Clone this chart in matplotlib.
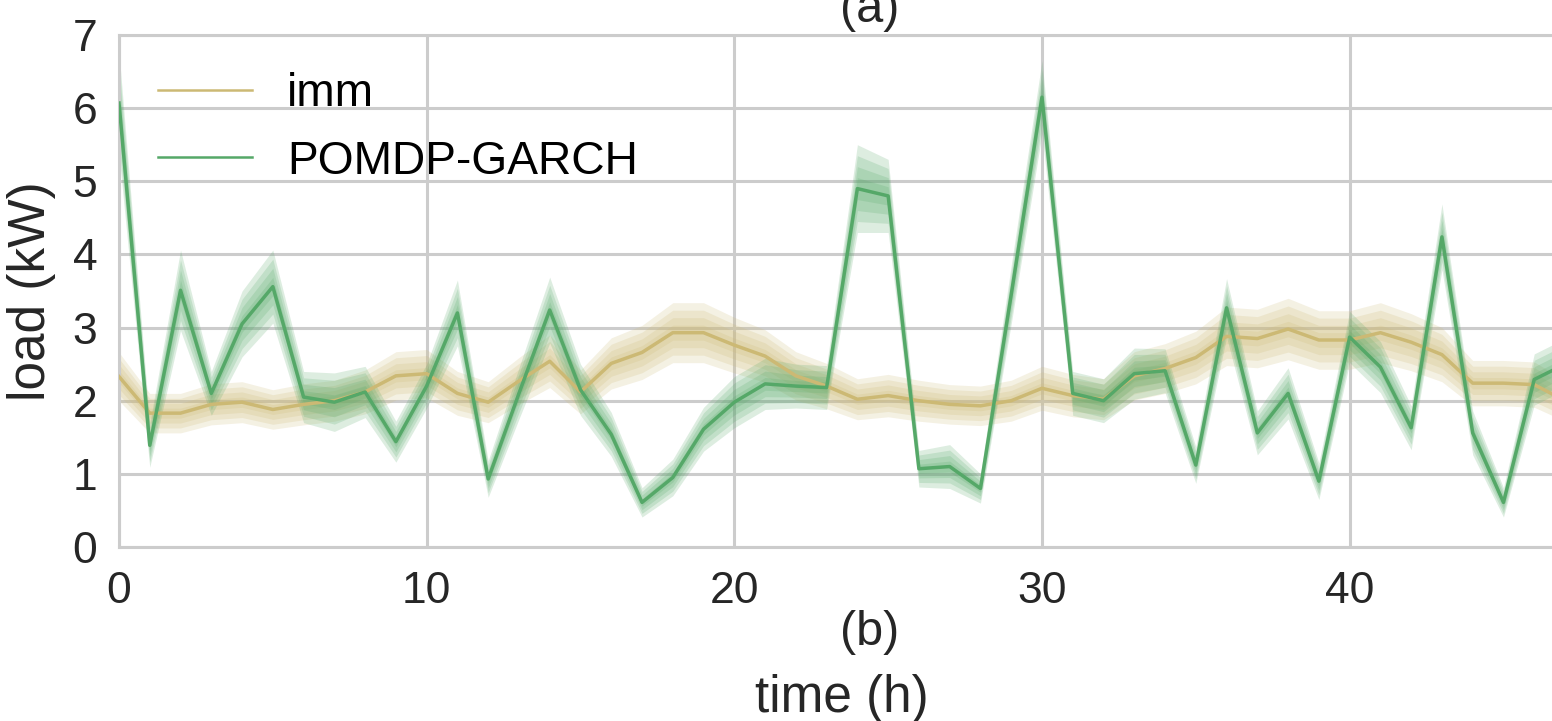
import matplotlib
matplotlib.use("Agg")
import matplotlib.pyplot as plt
import numpy as np

# ---- data -------------------------------------------------------------
hours = list(range(48))

imm_load = [2.33, 1.83, 1.83, 1.95, 1.98, 1.88, 1.95, 2.00, 2.12, 2.34,
            2.37, 2.10, 1.98, 2.27, 2.54, 2.12, 2.51, 2.66, 2.93, 2.93,
            2.76, 2.61, 2.34, 2.20, 2.02, 2.07, 2.00, 1.95, 1.93, 2.00,
            2.17, 2.07, 2.02, 2.34, 2.44, 2.59, 2.88, 2.85, 2.98, 2.83,
            2.83, 2.93, 2.80, 2.63, 2.24, 2.24, 2.22, 2.00]
imm_halfwidth = [0.33, 0.27, 0.27, 0.28, 0.28, 0.27, 0.28, 0.28, 0.30, 0.33,
                 0.33, 0.30, 0.28, 0.32, 0.36, 0.30, 0.35, 0.37, 0.41, 0.41,
                 0.38, 0.36, 0.33, 0.31, 0.28, 0.29, 0.28, 0.27, 0.27, 0.28,
                 0.30, 0.29, 0.28, 0.33, 0.34, 0.36, 0.40, 0.40, 0.42, 0.40,
                 0.40, 0.41, 0.39, 0.37, 0.31, 0.31, 0.31, 0.28]

garch_load = [6.07, 1.39, 3.51, 2.10, 3.05, 3.56, 2.05, 1.98, 2.12, 1.44,
              2.20, 3.20, 0.93, 2.10, 3.24, 2.15, 1.54, 0.61, 0.95, 1.61,
              1.98, 2.23, 2.20, 2.18, 4.90, 4.80, 1.07, 1.10, 0.80, 3.45,
              6.15, 2.10, 2.00, 2.37, 2.41, 1.12, 3.27, 1.56, 2.10, 0.90,
              2.87, 2.46, 1.63, 4.24, 1.56, 0.61, 2.29, 2.50]
garch_halfwidth = [0.70, 0.30, 0.55, 0.30, 0.45, 0.50, 0.35, 0.40, 0.35, 0.28,
                   0.30, 0.45, 0.25, 0.35, 0.45, 0.35, 0.30, 0.20, 0.25, 0.30,
                   0.35, 0.35, 0.30, 0.30, 0.60, 0.50, 0.25, 0.30, 0.20, 0.40,
                   0.50, 0.30, 0.30, 0.35, 0.30, 0.25, 0.40, 0.30, 0.35, 0.25,
                   0.35, 0.35, 0.30, 0.45, 0.30, 0.20, 0.35, 0.35]

series_names = ["imm", "POMDP-GARCH"]
series_colors = ["#CCB974", "#55A868"]

# nested confidence bands, as fractions of the outer half-width
band_levels = [1.0, 0.75, 0.5, 0.25]

# ---- figure -----------------------------------------------------------
W, H = 1552, 721
plt.rcParams["font.family"] = ["Liberation Sans", "DejaVu Sans"]
fig = plt.figure(figsize=(W / 100, H / 100), dpi=100)

left_px, right_px, top_px, bottom_px = 119, 1565, 35, 547
ax = fig.add_axes([left_px / W, 1 - bottom_px / H,
                   (right_px - left_px) / W, (bottom_px - top_px) / H])
ax.set_facecolor("white")

x = np.array(hours, dtype=float)
for name, color, mean, hw in [
        (series_names[0], series_colors[0], imm_load, imm_halfwidth),
        (series_names[1], series_colors[1], garch_load, garch_halfwidth)]:
    mean = np.array(mean)
    hw = np.array(hw)
    for lv in band_levels:
        ax.fill_between(x, mean - lv * hw, mean + lv * hw, color=color,
                        alpha=0.2, linewidth=0, zorder=2)
    ax.plot(x, mean, color=color, linewidth=2.5, label=name, zorder=3)

ax.set_xlim(0, 47)
ax.set_ylim(0, 7)
ax.set_xticks([0, 10, 20, 30, 40])
ax.set_yticks(range(8))

ax.grid(True, color="#cccccc", linewidth=2.2, zorder=0)
ax.set_axisbelow(True)
for sp in ax.spines.values():
    sp.set_color("#cccccc")
    sp.set_linewidth(2.2)
ax.tick_params(axis="both", length=0, labelsize=32, colors="#262626")
ax.tick_params(axis="x", pad=17)
ax.tick_params(axis="y", pad=15.5)

ax.set_ylabel("load (kW)", fontsize=37, color="#262626", labelpad=12)

leg_x = (158 - left_px) / (right_px - left_px)
leg_y = (bottom_px - 72) / (bottom_px - top_px)
leg = ax.legend(loc="upper left", frameon=False, fontsize=33.2,
                handlelength=2.04, handletextpad=0.76, labelspacing=0.51,
                bbox_to_anchor=(leg_x, leg_y), borderaxespad=0.0,
                borderpad=0.0)
for line in leg.get_lines():
    line.set_linewidth(1.8)

fig.text(870 / W, 1 - 22 / H, "(a)", ha="center", va="baseline",
         fontsize=35, color="#262626")
fig.text(870 / W, 1 - 645 / H, "(b)", ha="center", va="baseline",
         fontsize=35, color="#262626")
fig.text(842 / W, 1 - 712 / H, "time (h)", ha="center", va="baseline",
         fontsize=37, color="#262626")

fig.savefig("out.png", dpi=100)
